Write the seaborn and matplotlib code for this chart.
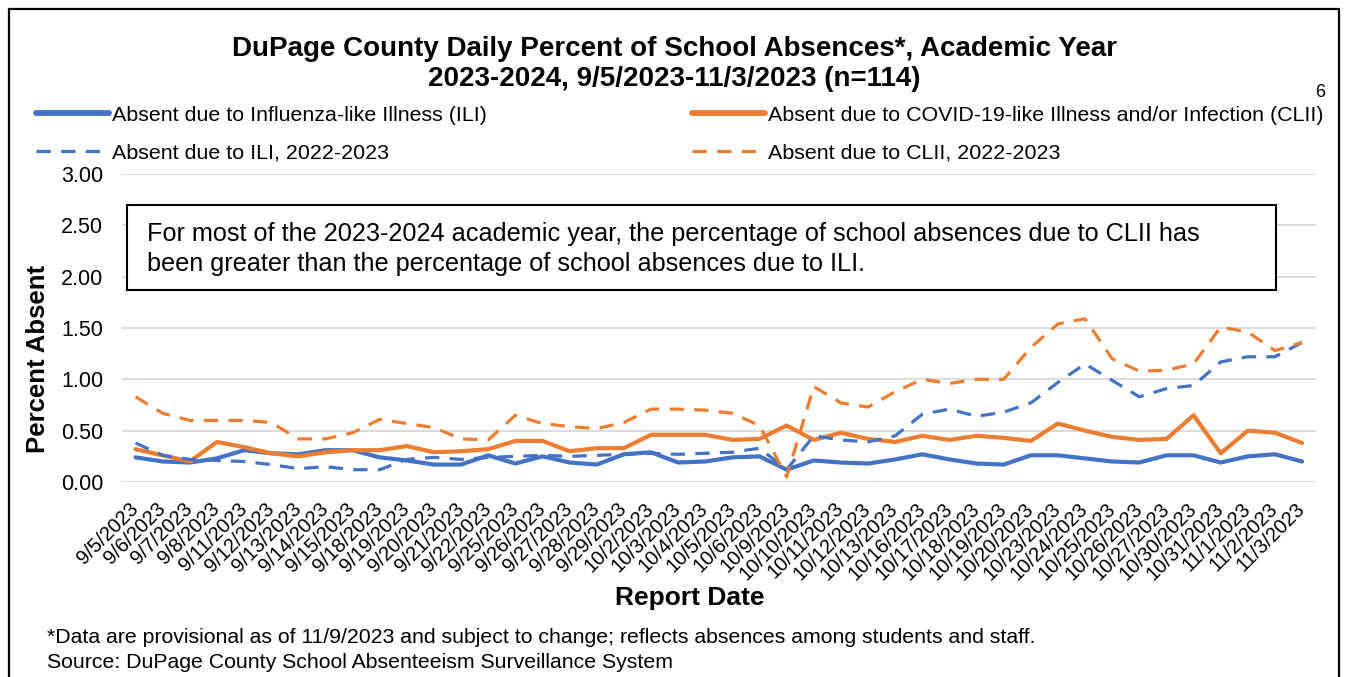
import pandas as pd
import seaborn as sns
import matplotlib.pyplot as plt
from matplotlib.patches import Rectangle
from matplotlib.lines import Line2D

# report dates (school days)
dates = ["9/5/2023", "9/6/2023", "9/7/2023", "9/8/2023", "9/11/2023", "9/12/2023",
         "9/13/2023", "9/14/2023", "9/15/2023", "9/18/2023", "9/19/2023", "9/20/2023",
         "9/21/2023", "9/22/2023", "9/25/2023", "9/26/2023", "9/27/2023", "9/28/2023",
         "9/29/2023", "10/2/2023", "10/3/2023", "10/4/2023", "10/5/2023", "10/6/2023",
         "10/9/2023", "10/10/2023", "10/11/2023", "10/12/2023", "10/13/2023", "10/16/2023",
         "10/17/2023", "10/18/2023", "10/19/2023", "10/20/2023", "10/23/2023", "10/24/2023",
         "10/25/2023", "10/26/2023", "10/27/2023", "10/30/2023", "10/31/2023", "11/1/2023",
         "11/2/2023", "11/3/2023"]

ili = [0.24, 0.20, 0.19, 0.23, 0.31, 0.28, 0.27, 0.31, 0.31, 0.24, 0.21, 0.17,
       0.17, 0.26, 0.18, 0.25, 0.19, 0.17, 0.27, 0.29, 0.19, 0.20, 0.24, 0.25,
       0.12, 0.21, 0.19, 0.18, 0.22, 0.27, 0.22, 0.18, 0.17, 0.26, 0.26, 0.23,
       0.20, 0.19, 0.26, 0.26, 0.19, 0.25, 0.27, 0.20]

clii = [0.32, 0.26, 0.20, 0.39, 0.34, 0.28, 0.25, 0.29, 0.31, 0.31, 0.35, 0.29,
        0.30, 0.32, 0.40, 0.40, 0.30, 0.33, 0.33, 0.46, 0.46, 0.46, 0.41, 0.42,
        0.55, 0.41, 0.48, 0.42, 0.39, 0.45, 0.41, 0.45, 0.43, 0.40, 0.57, 0.50,
        0.44, 0.41, 0.42, 0.65, 0.28, 0.50, 0.48, 0.38]

ili_prev = [0.38, 0.26, 0.22, 0.21, 0.20, 0.17, 0.13, 0.15, 0.12, 0.12, 0.22, 0.24,
            0.22, 0.24, 0.25, 0.26, 0.25, 0.26, 0.27, 0.28, 0.27, 0.28, 0.29, 0.33,
            0.12, 0.45, 0.41, 0.39, 0.45, 0.66, 0.71, 0.64, 0.68, 0.77, 0.97, 1.15,
            0.99, 0.83, 0.91, 0.94, 1.17, 1.22, 1.22, 1.36]

clii_prev = [0.83, 0.67, 0.60, 0.60, 0.60, 0.58, 0.42, 0.42, 0.48, 0.61, 0.57, 0.53,
             0.42, 0.41, 0.65, 0.57, 0.54, 0.52, 0.58, 0.71, 0.71, 0.70, 0.67, 0.55,
             0.05, 0.93, 0.77, 0.73, 0.88, 1.00, 0.96, 1.00, 1.00, 1.31, 1.54, 1.59,
             1.20, 1.08, 1.09, 1.15, 1.51, 1.46, 1.28, 1.36]

labels = ["Absent due to Influenza-like Illness (ILI)",
          "Absent due to COVID-19-like Illness and/or Infection (CLII)",
          "Absent due to ILI, 2022-2023",
          "Absent due to CLII, 2022-2023"]

df = pd.DataFrame({"idx": range(len(dates)), "Date": dates,
                   labels[0]: ili, labels[1]: clii,
                   labels[2]: ili_prev, labels[3]: clii_prev})
df_long = df.melt(id_vars=["idx", "Date"], var_name="Series", value_name="Percent")

blue = "#4472C4"
orange = "#ED7D31"
styles = {
    labels[0]: dict(color=blue, lw=3.0, dash=None),
    labels[1]: dict(color=orange, lw=3.0, dash=None),
    labels[2]: dict(color=blue, lw=2.3, dash=(4.5, 3.2)),
    labels[3]: dict(color=orange, lw=2.3, dash=(4.5, 3.2)),
}

sns.set_theme(style="white")
plt.rcParams['font.family'] = ['Liberation Sans', 'DejaVu Sans']
plt.rcParams.update({"text.color": "black", "axes.labelcolor": "black",
                     "xtick.color": "black", "ytick.color": "black"})

fig = plt.figure(figsize=(13.48, 6.77), dpi=100)
ax = fig.add_axes([0.0905, 0.288, 0.8855, 0.455])

handles = {}
for name in labels:
    st = styles[name]
    sub = df_long[df_long["Series"] == name]
    sns.lineplot(data=sub, x="idx", y="Percent", color=st["color"], linewidth=st["lw"],
                 ax=ax, legend=False)
    line = ax.lines[-1]
    if st["dash"] is not None:
        line.set_dashes(st["dash"])
    line.set_solid_capstyle("round")
    line.set_dash_capstyle("butt")
    h = Line2D([], [], color=st["color"], linewidth=st["lw"] * 1.4 if st["dash"] is None else st["lw"])
    if st["dash"] is not None:
        h.set_dashes(st["dash"])
    handles[name] = h

ax.set_xlim(-0.5, len(dates) - 0.5)
ax.set_ylim(0, 3.0)
yt = [0, 0.5, 1.0, 1.5, 2.0, 2.5, 3.0]
ax.set_yticks(yt)
ax.set_yticklabels([f"{v:.2f}" for v in yt], fontsize=15.5)
ax.set_xticks(range(len(dates)))
ax.set_xticklabels(dates, rotation=45, ha="right", va="center", rotation_mode="anchor", fontsize=14.5)
ax.tick_params(axis="y", length=0, pad=13.5)
ax.tick_params(axis="x", length=0, pad=17)
ax.grid(axis="y", color="#D9D9D9", linewidth=1.3)
ax.set_axisbelow(True)
for s in ax.spines.values():
    s.set_visible(False)

ax.set_xlabel("Report Date", fontsize=19, fontweight="bold")
ax.xaxis.set_label_coords(0.476, -0.377)
ax.xaxis.label.set_va("center")
ax.set_ylabel("Percent Absent", fontsize=18.5, fontweight="bold")
ax.yaxis.set_label_coords(-0.070, 0.40)
ax.yaxis.label.set_va("center")

# annotation box
ax.add_patch(Rectangle((0.004, 0.623), 0.963, 0.276, transform=ax.transAxes,
                       facecolor="white", edgecolor="black", linewidth=1.5, zorder=5))
ax.text(0.021, 0.757,
        "For most of the 2023-2024 academic year, the percentage of school absences due to CLII has\n"
        "been greater than the percentage of school absences due to ILI.",
        transform=ax.transAxes, fontsize=18.2, va="center", ha="left", linespacing=1.3, zorder=6)

# title
fig.text(0.5, 0.906, "DuPage County Daily Percent of School Absences*, Academic Year\n"
         "2023-2024, 9/5/2023-11/3/2023 (n=114)",
         ha="center", va="center", fontsize=20, fontweight="bold", linespacing=1.2)
fig.text(0.979, 0.864, "6", fontsize=13, ha="center", va="center")

# legend: col1 = ILI lines, col2 = CLII lines
order = [labels[0], labels[2], labels[1], labels[3]]
fig.legend([handles[n] for n in order], order, loc="upper left",
           bbox_to_anchor=(0.027, 0.745, 0.955, 0.099), mode="expand", ncol=2,
           frameon=False, fontsize=15.4, handlelength=3.4, handletextpad=0.15,
           labelspacing=0.9, borderaxespad=0, borderpad=0)

# footnotes
fig.text(0.035, 0.059, "*Data are provisional as of 11/9/2023 and subject to change; reflects absences among students and staff.",
         fontsize=15.3, ha="left", va="center")
fig.text(0.035, 0.022, "Source: DuPage County School Absenteeism Surveillance System",
         fontsize=15.3, ha="left", va="center")

# outer frame (top, left, right)
W, H = 1348, 677
for xs, ys in [((9, 1339), (9, 9)), ((9, 9), (9, 690)), ((1339, 1339), (9, 690))]:
    fig.add_artist(Line2D([x / W for x in xs], [1 - y / H for y in ys], color="black", linewidth=1.6))

plt.savefig("out.png", dpi=100)
